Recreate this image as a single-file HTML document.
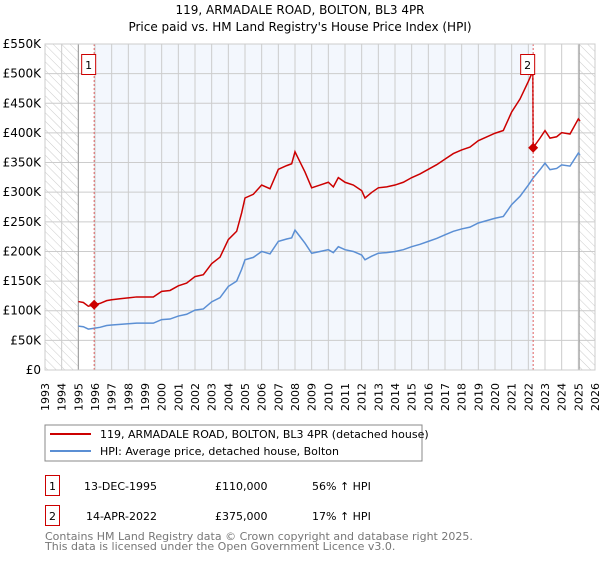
<!DOCTYPE html>
<html><head><meta charset="utf-8"><style>
body{margin:0;background:#fff;font-family:"DejaVu Sans","Liberation Sans",sans-serif;}
svg text{font-family:"DejaVu Sans","Liberation Sans",sans-serif;}
</style></head><body>
<svg id="c" width="600" height="560" xmlns="http://www.w3.org/2000/svg">
<defs><pattern id="hatch" width="6" height="6" patternUnits="userSpaceOnUse" patternTransform="rotate(-45)"><line x1="0" y1="0" x2="0" y2="6" stroke="#ccc" stroke-width="1"/></pattern></defs>
<text x="300" y="14" text-anchor="middle" font-size="12">119, ARMADALE ROAD, BOLTON, BL3 4PR</text>
<text x="300" y="31" text-anchor="middle" font-size="12">Price paid vs. HM Land Registry's House Price Index (HPI)</text>
<g id="plot"></g>
<rect x="45" y="425" width="377" height="36" fill="#fff" stroke="#888"/>
<line x1="50" y1="434" x2="91" y2="434" stroke="#cc0000" stroke-width="2"/>
<text x="100" y="438" font-size="11">119, ARMADALE ROAD, BOLTON, BL3 4PR (detached house)</text>
<line x1="50" y1="451" x2="91" y2="451" stroke="#5b8fd4" stroke-width="2"/>
<text x="100" y="455" font-size="11">HPI: Average price, detached house, Bolton</text>
<g font-size="11">
<rect x="45.5" y="475.5" width="14" height="20" fill="none" stroke="#cc0000"/>
<text x="52.5" y="490" text-anchor="middle">1</text>
<text x="157" y="490" text-anchor="end">13-DEC-1995</text>
<text x="215" y="490">£110,000</text>
<text x="312" y="490">56% ↑ HPI</text>
<rect x="45.5" y="505.5" width="14" height="20" fill="none" stroke="#cc0000"/>
<text x="52.5" y="520" text-anchor="middle">2</text>
<text x="157" y="520" text-anchor="end">14-APR-2022</text>
<text x="215" y="520">£375,000</text>
<text x="312" y="520">17% ↑ HPI</text>
</g>
<text x="45" y="540" font-size="11" fill="#777">Contains HM Land Registry data © Crown copyright and database right 2025.</text>
<text x="45" y="550" font-size="11" fill="#777">This data is licensed under the Open Government Licence v3.0.</text>
</svg>
<script>
const hpiYears=[1995.0,1995.3,1995.6,1995.95,1996.3,1996.7,1997.0,1997.5,1998.0,1998.5,1999.0,1999.5,2000.0,2000.5,2001.0,2001.5,2002.0,2002.5,2003.0,2003.5,2004.0,2004.5,2004.8,2005.0,2005.5,2006.0,2006.5,2007.0,2007.5,2007.8,2008.0,2008.3,2008.6,2009.0,2009.5,2010.0,2010.3,2010.6,2011.0,2011.5,2012.0,2012.2,2012.6,2013.0,2013.5,2014.0,2014.5,2015.0,2015.5,2016.0,2016.5,2017.0,2017.5,2018.0,2018.5,2019.0,2019.5,2020.0,2020.5,2021.0,2021.5,2022.0,2022.29,2022.7,2023.0,2023.3,2023.7,2024.0,2024.5,2025.0,2025.1];
const hpiValues=[74,73,69,70.5,72,75,76,77,78,79,79,79,85,86,91,94,101,103,115,122,141,150,170,186,190,200,196,217,221,223,236,225,214,197,200,203,198,208,203,200,194,186,192,197,198,200,203,208,212,217,222,228,234,238,241,248,252,256,259,279,293,312,324,338,349,338,340,346,344,366,363];
const saleYears=[1995.95,2022.29];
const salePrices=[110,375];
const yTicks=[0,50,100,150,200,250,300,350,400,450,500,550];
const yLabels=["£0","£50K","£100K","£150K","£200K","£250K","£300K","£350K","£400K","£450K","£500K","£550K"];
const xTicks=[1993,1994,1995,1996,1997,1998,1999,2000,2001,2002,2003,2004,2005,2006,2007,2008,2009,2010,2011,2012,2013,2014,2015,2016,2017,2018,2019,2020,2021,2022,2023,2024,2025,2026];
const dataStart=1995, dataEnd=2025.05;
const L=45,R=595,T=44,B=370;
const X=y=>L+(y-1993)/33*(R-L);
const Y=v=>B-v/550*(B-T);
const NS="http://www.w3.org/2000/svg";
const g=document.getElementById('plot');
function mk(t,a){const e=document.createElementNS(NS,t);for(const k in a)e.setAttribute(k,a[k]);g.appendChild(e);return e;}
let e;
e=mk('rect',{x:L,y:T,width:R-L,height:B-T,fill:'#fff'});


e=mk('rect',{x:X(saleYears[0]),y:T,width:X(saleYears[1])-X(saleYears[0]),height:B-T,fill:'#eef3fc',opacity:0.7});


e=mk('rect',{x:L,y:T,width:X(dataStart)-L,height:B-T,fill:'url(#hatch)'});


e=mk('rect',{x:X(dataEnd),y:T,width:R-X(dataEnd),height:B-T,fill:'url(#hatch)'});


yTicks.forEach((v,i)=>{
 e=mk('line',{x1:L,x2:R,y1:Y(v),y2:Y(v),stroke:'#ccc','stroke-width':1});
 
 
 e=mk('text',{x:L-4,y:Y(v)+4,'text-anchor':'end','font-size':12});
 e.textContent=yLabels[i];
 
 
});
xTicks.forEach(yr=>{
 e=mk('line',{x1:X(yr),x2:X(yr),y1:T,y2:B,stroke:'#ccc','stroke-width':1});
 
 
 e=mk('text',{x:0,y:0,'text-anchor':'end','font-size':11,transform:`translate(${X(yr)+4},${B+13}) rotate(-90)`});
 e.textContent=yr;
 
 
});
[dataStart,dataEnd].forEach(yr=>{
 e=mk('line',{x1:X(yr),x2:X(yr),y1:T,y2:B,stroke:'#999','stroke-width':1});
 
 
});
function hpiAt(y){for(let i=1;i<hpiYears.length;i++){if(y<=hpiYears[i]){const t=(y-hpiYears[i-1])/(hpiYears[i]-hpiYears[i-1]);return hpiValues[i-1]+t*(hpiValues[i]-hpiValues[i-1]);}}return hpiValues[hpiValues.length-1];}
// property line: HPI indexed from each sale
const r1=salePrices[0]/hpiAt(saleYears[0]), r2=salePrices[1]/hpiAt(saleYears[1]);
let rp=[];
hpiYears.forEach((yr,i)=>{ if(yr<saleYears[1]) rp.push([yr,hpiValues[i]*r1]); });
rp.push([saleYears[1]-0.02,hpiAt(saleYears[1]-0.02)*r1]);
rp.push([saleYears[1],salePrices[1]]);
hpiYears.forEach((yr,i)=>{ if(yr>saleYears[1]) rp.push([yr,hpiValues[i]*r2]); });
e=mk('polyline',{points:hpiYears.map((yr,i)=>X(yr)+','+Y(hpiValues[i])).join(' '),fill:'none',stroke:'#5b8fd4','stroke-width':1.5});


e=mk('polyline',{points:rp.map(p=>X(p[0])+','+Y(p[1])).join(' '),fill:'none',stroke:'#cc0000','stroke-width':1.5});


saleYears.forEach((yr,i)=>{
 e=mk('line',{x1:X(yr),x2:X(yr),y1:T,y2:B,stroke:'#e06060','stroke-width':1,'stroke-dasharray':'2,2'});
 
 
 const cx=X(yr),cy=Y(salePrices[i]);
 e=mk('polygon',{points:`${cx},${cy-5} ${cx+5},${cy} ${cx},${cy+5} ${cx-5},${cy}`,fill:'#cc0000'});
 
 
 e=mk('rect',{x:cx-12.5,y:54.5,width:14,height:20,fill:'#fff',stroke:'#cc0000'});
 
 
 e=mk('text',{x:cx-5.5,y:69,'text-anchor':'middle','font-size':11});
 e.textContent=i+1;
 
 
});
e=mk('rect',{x:L,y:T,width:R-L,height:B-T,fill:'none',stroke:'#ccc'});


</script>
</body></html>
